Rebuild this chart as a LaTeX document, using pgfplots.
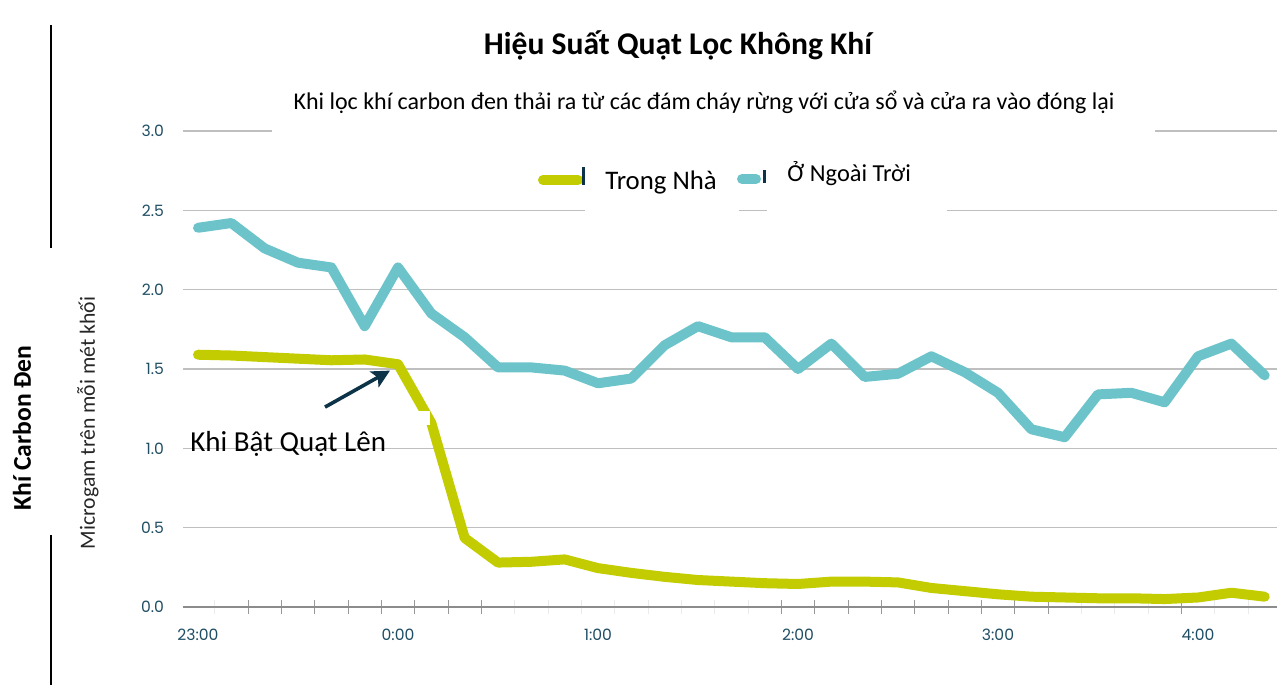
\documentclass[border=0pt]{standalone}
\usepackage{pgfplots}
\pgfplotsset{compat=1.18}
\usepackage{pgfplotstable}
\usetikzlibrary{arrows.meta}
\usepackage{fontspec}
\setmainfont{Carlito}
\newfontfamily\pop{Poppins}
\definecolor{indoor}{HTML}{C2CC00}
\definecolor{outdoor}{HTML}{6CC4CA}
\definecolor{ticklab}{HTML}{1F4E63}
\definecolor{arrowc}{HTML}{0D3349}

\pgfplotstableread{
i in out
0 1.59 2.39
1 1.585 2.42
2 1.575 2.26
3 1.565 2.17
4 1.555 2.14
5 1.56 1.77
6 1.53 2.14
7 1.16 1.85
8 0.435 1.70
9 0.28 1.51
10 0.285 1.51
11 0.30 1.49
12 0.245 1.41
13 0.215 1.44
14 0.19 1.65
15 0.17 1.77
16 0.16 1.70
17 0.15 1.70
18 0.145 1.50
19 0.16 1.66
20 0.16 1.45
21 0.155 1.47
22 0.12 1.58
23 0.10 1.48
24 0.08 1.35
25 0.065 1.12
26 0.06 1.07
27 0.055 1.34
28 0.055 1.35
29 0.05 1.29
30 0.06 1.58
31 0.09 1.66
32 0.065 1.46
}\data

\begin{document}
\begin{tikzpicture}
\begin{axis}[
  at={(91.5pt,39pt)}, anchor=south west,
  scale only axis, width=547pt, height=238pt,
  xmin=-0.45, xmax=32.37, ymin=0, ymax=3,
  clip=false,
  axis line style={draw=none},
  xtick={0,6,12,18,24,30},
  xticklabels={23:00,0:00,1:00,2:00,3:00,4:00},
  ytick={0,0.5,1,1.5,2,2.5,3},
  yticklabels={0.0,0.5,1.0,1.5,2.0,2.5,3.0},
  major tick length=0pt,
  ymajorgrids, grid style={black!25, line width=0.6pt},
  tick label style={font=\pop\fontsize{7.8}{9}\selectfont, text=ticklab},
  yticklabel style={xshift=-6pt},
  xticklabel style={yshift=-7.5pt},
  minor xtick={0.5,1.5,...,31.5},
  minor tick length=7pt,
  minor tick style={black!8, line width=0.5pt},
  tick align=center, xtick pos=bottom, ytick pos=left,
  extra x ticks={1.5,2.5,3.5,4.5,5.5,6.5,7.5,8.5,17.5,18.5,19.5,20.5,21.5,22.5,23.5,24.5,25.5,29.5},
  extra x tick labels={},
  extra x tick style={grid=none, major tick length=7pt, tick style={black!40, line width=0.5pt}},
]
% masks over grid lines
\fill[white] (axis cs:2.22,2.94) rectangle (axis cs:28.71,3.06);
\fill[white] (axis cs:11.61,2.44) rectangle (axis cs:16.23,2.56);
\fill[white] (axis cs:17.07,2.44) rectangle (axis cs:22.47,2.56);
\draw[black!45, line width=0.7pt] (axis cs:-0.45,0) -- (axis cs:32.37,0);

\addplot[outdoor, line width=5pt, line cap=round, line join=round] table[x=i,y=out]{\data};
\addplot[indoor, line width=5pt, line cap=round, line join=round] table[x=i,y=in]{\data};
\fill[white] (axis cs:6.6,1.235) rectangle (axis cs:6.96,1.15);

\draw[arrowc, line width=1.8pt, -{Stealth[length=9pt,width=9pt,inset=2pt]}] (axis cs:3.81,1.26) -- (axis cs:5.76,1.49);
\end{axis}

% titles
\node[font=\bfseries\fontsize{15.8}{19}\selectfont] at (339pt,320pt) {Hiệu Suất Quạt Lọc Không Khí};
\node[font=\fontsize{12}{14}\selectfont] at (352pt,291.5pt) {Khi lọc khí carbon đen thải ra từ các đám cháy rừng với cửa sổ và cửa ra vào đóng lại};

% legend
\draw[indoor, line width=5pt, line cap=round] (271.5pt,252.5pt) -- (289pt,252.5pt);
\fill[arrowc] (291pt,250pt) rectangle (292.5pt,259pt);
\draw[outdoor, line width=5pt, line cap=round] (371pt,253pt) -- (378pt,253pt);
\fill[arrowc] (381.5pt,251pt) rectangle (383pt,257.5pt);
\node[anchor=base west, inner sep=0pt, font=\fontsize{13.4}{15}\selectfont] at (302.5pt,247.5pt) {Trong Nhà};
\node[anchor=base west, inner sep=0pt, font=\fontsize{12.2}{14}\selectfont] at (393.5pt,251.5pt) {Ở Ngoài Trời};

% annotation
\node[anchor=base west, inner sep=0pt, font=\fontsize{14.5}{17}\selectfont] at (95pt,116.5pt) {Khi Bật Quạt Lên};

% y titles
\draw[black, line width=0.75pt] (25.5pt,330pt) -- (25.5pt,218.5pt);
\draw[black, line width=0.75pt] (25.5pt,75pt) -- (25.5pt,0pt);
\node[rotate=90, font=\bfseries\fontsize{12.8}{15}\selectfont] at (11pt,128.5pt) {Khí Carbon Đen};
\node[rotate=90, font=\fontsize{10.85}{13}\selectfont, text=black!85] at (44pt,131pt) {Microgam trên mỗi mét khối};

\pgfresetboundingbox
\path (0pt,0pt) rectangle (638.5pt,342.5pt);
\end{tikzpicture}
\end{document}
